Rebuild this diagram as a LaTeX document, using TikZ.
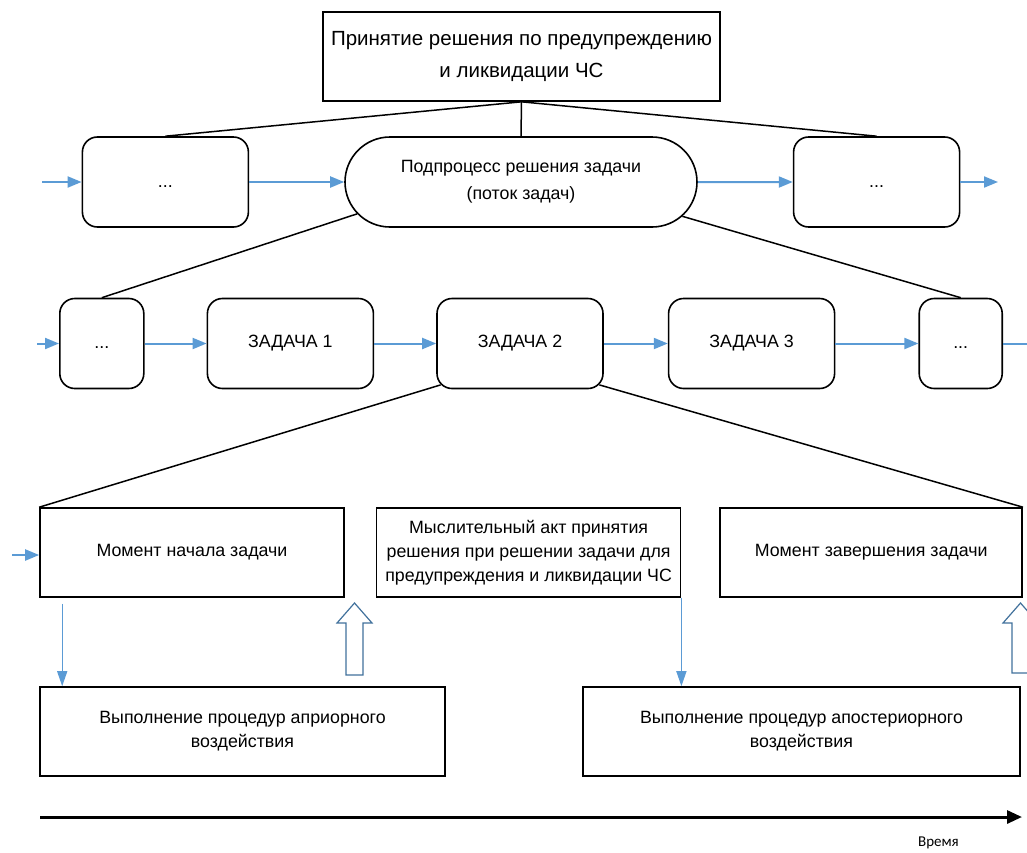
\documentclass[tikz,border=0pt]{standalone}
\usepackage{fontspec}
\setmainfont{Liberation Sans}
\newfontfamily\axisfont{Carlito}
\usetikzlibrary{arrows.meta,positioning,calc,shapes.misc}
\definecolor{flowblue}{RGB}{91,155,213}
\definecolor{hollowblue}{RGB}{65,113,156}
\tikzset{
  titlebox/.style={draw=black, line width=1.6pt, fill=white, inner sep=0pt,
              minimum width=397pt, minimum height=89pt, align=center,
              font=\fontsize{20.5}{32}\selectfont},
  procbox/.style={draw=black, line width=1.6pt, fill=white, rounded corners=15pt, inner sep=0pt,
              minimum width=166pt, minimum height=90pt, align=center,
              font=\fontsize{17.8}{27}\selectfont},
  subbox/.style={draw=black, line width=1.6pt, fill=white, rounded rectangle, inner sep=0pt,
              minimum width=352pt, minimum height=90pt, align=center,
              font=\fontsize{17.8}{27}\selectfont},
  stagebox/.style={draw=black, line width=1.6pt, fill=white, inner sep=0pt,
              minimum height=89pt, align=center, font=\fontsize{17.8}{24}\selectfont},
  link/.style={black, line width=1.5pt},
  flowarr/.style={-{Triangle[length=14pt,width=11pt]}, flowblue, line width=2pt},
  downarr/.style={-{Triangle[length=15pt,width=10pt]}, flowblue, line width=1.4pt},
  hollow/.style={draw=hollowblue, fill=white, line width=1.2pt},
  timearr/.style={-{Triangle[length=15pt,width=13pt]}, black, line width=3pt},
}

\begin{document}
\begin{tikzpicture}[x=1pt, y=-1pt]
  \useasboundingbox (0,0) rectangle (1027,852);

  % decision on top
  \node[titlebox] (top) at (521.5,56.5)
       {Принятие решения по предупреждению\\и ликвидации ЧС};

  % subprocess level
  \node[subbox] (sub) at (521,182) {Подпроцесс решения задачи\\(поток задач)};
  \node[procbox, left=95pt of sub] (prev) {\strut...};
  \node[procbox, right=95pt of sub] (next) {\strut...};

  % task level
  \node[procbox] (task2) at (520,343.5) {ЗАДАЧА 2};
  \node[procbox, left=62pt of task2] (task1) {ЗАДАЧА 1};
  \node[procbox, left=62pt of task1, minimum width=84pt] (gapl) {\strut...};
  \node[procbox, right=64pt of task2] (task3) {ЗАДАЧА 3};
  \node[procbox, right=83pt of task3, minimum width=83pt] (gapr) {\strut...};

  % moments of one task
  \node[stagebox, minimum width=304pt] (start) at (192,552.5) {Момент начала задачи};
  \node[stagebox, minimum width=304pt, right=31pt of start] (act)
       {Мыслительный акт принятия\\решения при решении задачи для\\предупреждения и ликвидации ЧС};
  \node[stagebox, minimum width=302pt, right=38pt of act] (fin) {Момент завершения задачи};
  \node[stagebox, minimum width=405pt] (apr) at (242.5,731.5)
       {Выполнение процедур априорного\\воздействия};
  \node[stagebox, minimum width=437pt] (apost) at (801.5,731.5)
       {Выполнение процедур апостериорного\\воздействия};

  % tree links
  \draw[link] (top.south) -- (sub.north);
  \draw[link] (top.south) -- (prev.north);
  \draw[link] (top.south) -- (next.north);
  \draw[link] (sub.191.6) -- (gapl.north);
  \draw[link] (sub.348.4) -- (gapr.north);
  \draw[link] ([xshift=4.4pt,yshift=4.4pt]task2.south west) -- (start.north west);
  \draw[link] ([xshift=-4.4pt,yshift=4.4pt]task2.south east) -- (fin.north east);

  % flow along each level
  \coordinate (in1) at (42,182);
  \coordinate (out1) at (998,182);
  \draw[flowarr] (in1) -- (prev);
  \draw[flowarr] (prev) -- (sub);
  \draw[flowarr] (sub) -- (next);
  \draw[flowarr] (next) -- (out1);

  \coordinate (in2) at (37,343.5);
  \coordinate (out2) at (1041,343.5);
  \draw[flowarr] (in2) -- (gapl);
  \draw[flowarr] (gapl) -- (task1);
  \draw[flowarr] (task1) -- (task2);
  \draw[flowarr] (task2) -- (task3);
  \draw[flowarr] (task3) -- (gapr);
  \draw[flowarr] (gapr) -- (out2);

  \coordinate (in3) at (12,555);
  \draw[flowarr] (in3) -- (in3 -| start.west);
  \coordinate (d1) at ([xshift=23pt,yshift=-6pt]start.south west);
  \draw[downarr] (d1) -- (d1 |- apr.north);
  \draw[downarr] (act.south east) -- (act.south east |- apost.north);

  % hollow arrows back up
  \foreach \cx/\cy in {354.5/675, 1020.5/673}
    \draw[hollow] (\cx-8.5,\cy) -- (\cx-8.5,623) -- (\cx-17.5,623) -- (\cx,603)
                  -- (\cx+17.5,623) -- (\cx+8.5,623) -- (\cx+8.5,\cy) -- cycle;

  % time axis
  \coordinate (t0) at (40,817);
  \coordinate (t1) at (1022,817);
  \draw[timearr] (t0) -- (t1);
  \node[font=\axisfont\fontsize{15}{17}\selectfont] (tlabel) at (938.5,843) {Время};
\end{tikzpicture}
\end{document}
